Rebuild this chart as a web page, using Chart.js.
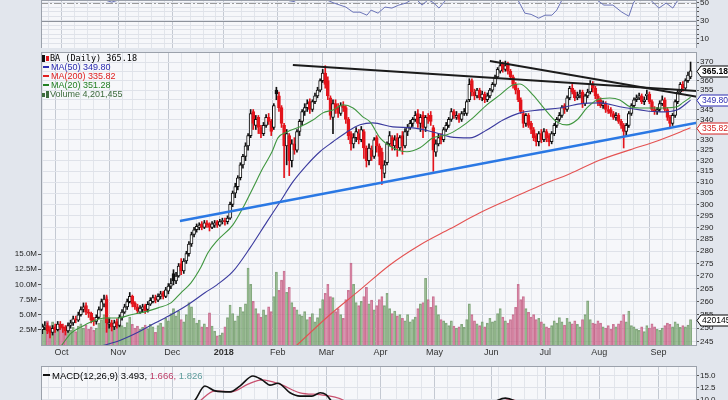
<!DOCTYPE html>
<html>
<head>
<meta charset="utf-8">
<script src="https://cdn.jsdelivr.net/npm/chart.js@4.4.0/dist/chart.umd.min.js"></script>
<style>
  body { margin: 0; width: 728px; height: 400px; overflow: hidden; position: relative; background: #e2e6ed; font-family: 'Liberation Sans', Arial, sans-serif; }
  .pane { position: absolute; left: 0; width: 728px; }
  #rsiBox { top: 0; height: 48px; }
  #priceBox { top: 48px; height: 310px; }
  #macdBox { top: 364px; height: 36px; }
  #legend { position: absolute; left: 42px; top: 6px; font-size: 9px; line-height: 9px; }
  #legend div { white-space: nowrap; }
  .dash { display: inline-block; width: 6px; height: 2px; margin: 0 2px 2px 1px; vertical-align: middle; }
  .ico { display: inline-block; width: 3px; margin-right: 1px; vertical-align: middle; }
  #macdLabel { position: absolute; left: 42px; top: 6px; font-size: 9.5px; white-space: nowrap; }
</style>
</head>
<body>
<div id="rsiBox" class="pane"><canvas id="rsi" width="728" height="48"></canvas></div>
<div id="priceBox" class="pane">
  <canvas id="price" width="728" height="310"></canvas>
  <div id="legend">
    <div><span class="ico" style="height:7px;background:#111"></span><span class="ico" style="height:5px;background:#e0161c"></span><span id="lgBA" style="font-family:'DejaVu Sans Mono',monospace;font-size:8.5px"></span></div>
    <div style="color:#2b2bb0"><span class="dash" style="background:#2b2bb0"></span><span id="lg50"></span></div>
    <div style="color:#e02020"><span class="dash" style="background:#e02020"></span><span id="lg200"></span></div>
    <div style="color:#238023"><span class="dash" style="background:#238023"></span><span id="lg20"></span></div>
    <div style="color:#3d6b3d"><span class="ico" style="height:4px;background:#3d6b3d"></span><span class="ico" style="height:7px;background:#3d6b3d"></span><span id="lgVol"></span></div>
  </div>
</div>
<div id="macdBox" class="pane">
  <canvas id="macd" width="728" height="36"></canvas>
  <div id="macdLabel"><span class="dash" style="background:#111;width:7px"></span>MACD(12,26,9) 3.493, <span style="color:#c0406a">1.666,</span> <span style="color:#5f9c9c">1.826</span></div>
</div>
<script>
const F = "'Liberation Sans', Arial, sans-serif";

// daily candles, Sep 20 2017 .. Sep 20 2018
const opens = [
  249.5, 250.5, 251, 249.5, 248.5, 250.5, 249.5, 251.5,
  250.5, 250.5, 249, 251, 252, 253.5, 253, 255, 257, 258.5, 256, 255.5, 253, 252.5, 254, 257, 259, 261, 251.5, 252, 250.5, 252.5,
  251, 254, 256, 258, 260, 262, 259.5, 258, 256, 257, 258.5, 257, 259, 260, 261.5, 260.5, 262, 263.5, 262, 264, 266,
  271, 268, 270, 275, 272, 276, 279, 283, 287, 289, 290, 291.5, 290, 292, 291.5, 290, 291, 292.5, 291, 292.5,
  293, 292.5, 294, 300, 305, 308, 312, 318, 322, 327, 332, 344, 337, 341, 336, 333, 337, 341, 339, 336, 355,
  352, 346, 337, 327, 332, 320, 328, 325, 334, 339, 344, 346, 349, 345, 349, 352, 355, 360, 364,
  360, 351, 341, 348, 346, 343, 347, 346, 340, 333, 328, 331, 333, 330, 334, 326, 320, 325, 322, 331, 327,
  324, 314, 319, 328, 331, 327, 331, 326, 332, 327, 334, 336, 338, 340, 343, 338, 342, 336, 341, 342, 336,
  324, 328, 332, 330, 335, 337, 340, 344, 341, 342, 340, 343, 343, 350, 360, 354, 352, 355, 351, 353, 350, 352,
  355, 358, 362, 365, 369, 366, 369, 365, 362, 358, 355, 350, 343, 338, 342, 338, 335, 332, 329, 333, 330,
  334, 332, 329, 333, 337, 340, 342, 347, 345, 351, 356, 354, 351, 352, 354, 348, 352, 354, 358, 356, 352,
  350, 347, 348, 345, 345, 343, 341, 342, 339, 337, 334, 337, 343, 347, 350, 351, 352, 349, 352, 353, 349, 345, 344,
  345, 348, 350, 345, 341, 338, 342, 349, 354, 358, 356, 360, 362
];
const highs = [
  251.5, 252.5, 252, 250.5, 251, 251.5, 252.5, 252.5,
  251.5, 251, 252, 253, 254.5, 254.5, 256, 258, 259.5, 259.5, 257, 256, 254, 255, 258, 261, 262.5, 262.5, 253.5, 253, 253, 253.5,
  255, 257, 259, 261, 263.5, 262.5, 260, 259, 258.5, 259, 259, 260, 261.5, 262.5, 262.5, 263, 264, 264, 265.5, 267, 269,
  272.5, 271.5, 275, 277, 277, 280, 284, 288, 290, 291.5, 292, 292.5, 293, 293, 292, 292.5, 293, 293, 293.5, 294,
  294, 295, 301, 306, 309.5, 313, 319, 323, 328.5, 333, 345, 345, 342, 342, 337, 338.5, 342.5, 343, 340, 348, 356.5,
  354, 347, 338, 335, 333, 330, 331, 335, 340, 345, 348, 350, 350.5, 350, 353.5, 356.5, 361, 366, 368,
  362, 352, 350, 350, 348, 348.5, 349, 347, 341, 334, 333, 336, 335, 336.5, 335, 327, 328, 327, 331, 332, 328,
  326, 320, 329, 334, 332, 332, 333, 332, 334, 335.5, 337.5, 339.5, 341, 344, 345, 342.5, 344, 342, 343, 344, 337,
  330, 333, 333, 336, 338.5, 341, 345.5, 345, 344, 343, 344, 345.5, 350, 361, 361, 355.5, 356, 356, 354.5, 354, 353.5, 356,
  359, 363, 367, 371, 370, 370.5, 370, 366, 363, 359, 356, 351, 344.5, 343, 343, 339, 336, 333, 334, 335, 335.5,
  335, 333, 334, 338, 341, 343.5, 347, 348, 352, 357, 358, 355, 354, 355, 355, 353, 355.5, 360, 359.5, 357, 353,
  351, 349.5, 349, 347, 346, 344, 343.5, 343, 340, 338, 338, 344, 348, 351, 352.5, 353.5, 353, 351.5, 355, 354, 350, 346.5, 346,
  349.5, 352, 351, 346, 342, 343, 350, 355, 359, 359.5, 361, 364.5, 370
];
const lows = [
  248, 249.5, 248, 246.5, 247.5, 248.5, 249, 249.5,
  248.5, 247.5, 248.5, 250, 251, 252, 252.5, 254.5, 256, 255, 254, 252, 251, 251.5, 253.5, 256.5, 258, 248.5, 250, 249, 249.5, 250,
  250.5, 253, 255.5, 257, 259.5, 258, 257, 255.5, 255.5, 256, 255.5, 256, 258.5, 259.5, 259.5, 260, 261, 261, 261.5, 263, 265,
  266.5, 267, 269.5, 270.5, 271, 275, 278, 282, 286, 288, 289, 289, 289.5, 290, 288.5, 289.5, 290, 290, 290.5, 291.5,
  291, 291.5, 293.5, 299, 303, 306.5, 311, 316.5, 320, 325, 331, 335, 335, 333, 331, 332, 336, 337.5, 332, 335, 350,
  344, 336, 312, 318, 313, 317, 323, 324, 332, 337, 342, 344, 343, 344, 348, 351, 354, 359, 356,
  350, 340, 333, 343, 341, 342, 344, 338, 330, 325, 326, 329, 328, 329, 321, 317, 318, 320, 321, 324, 318,
  309, 312, 318, 327, 325, 325, 322, 325, 323, 326, 332, 335, 336.5, 339, 336, 334, 331, 334, 338, 337, 315,
  322, 327, 328, 329, 334, 336, 339, 340.5, 340, 338.5, 339, 342, 342, 349, 352, 350, 351, 350, 349.5, 348.5, 349, 351,
  354, 357, 361, 364, 364.5, 365, 363.5, 360.5, 356, 353, 349, 343, 336, 336.5, 336, 333, 329.5, 327, 327, 328.5, 329,
  329, 327, 328, 332, 336, 339, 341, 343, 344, 350, 353, 349.5, 350, 351, 346, 347, 351, 353, 354, 350.5, 347,
  346, 345.5, 343.5, 343, 341.5, 340, 339.5, 338, 335.5, 326, 332, 336, 342, 346, 349, 350, 348, 347.5, 350, 348, 344, 342.5, 342.5,
  344, 347, 344, 339.5, 336, 337, 341, 348, 353, 354.5, 355, 359, 361
];
const closes = [
  250.5, 251, 249, 248.5, 250, 249.5, 251.5, 250.5,
  250, 249, 251, 252, 253.5, 253, 255, 257, 258, 256, 255.5, 253, 252.5, 254, 257, 260, 261, 252, 252, 250.5, 252, 251,
  254, 256, 258, 260, 262, 259, 258, 256.5, 257.5, 258, 256.5, 259, 260.5, 261.5, 260.5, 262, 263, 262, 264.5, 266, 267,
  268, 270, 274, 272, 276, 279, 283, 287, 289, 290.5, 291, 290, 292, 291, 290, 291.5, 292, 291, 292.5, 293,
  292.5, 294, 300, 305, 308, 312, 318, 322, 327, 332, 343, 338, 340, 336, 333, 337, 341, 339, 334, 347, 353,
  346, 338, 327, 333, 320, 328, 325, 334, 339, 344, 346, 348, 345, 349, 352, 355, 360, 364, 358,
  352, 342, 348, 345, 343, 347, 346, 340, 332, 328, 331, 334, 330, 335, 326, 320, 326, 322, 330, 327, 322,
  316, 318, 328, 332, 327, 330, 326, 331, 327, 334, 336, 338, 340, 342, 338, 341, 336, 341, 340, 339, 325,
  328, 331, 330, 335, 337, 340, 344, 342, 342, 340, 343, 344, 349, 358, 354, 352, 355, 351, 353, 350, 352, 355,
  358, 362, 366, 368, 366, 368, 365, 362, 358, 355, 350, 344, 338, 342, 337, 335, 331, 329, 333, 330, 334,
  331, 329, 333, 337, 340, 342, 346, 345, 351, 356, 354, 351, 352, 353, 348, 352, 354, 358, 356, 352, 349,
  347, 348, 345, 344, 343, 341, 342, 339, 337, 334, 337, 343, 347, 350, 351, 352, 349, 350, 353, 349, 345, 344, 345,
  348, 350, 345, 341, 338, 342, 349, 354, 358, 356, 360, 363, 365.18
];
// volume in millions
const volumes = [
  3.5, 2.8, 4.0, 3.2, 3.8, 2.6, 3.0, 2.9,
  3.0, 2.5, 2.7, 2.4, 2.9, 2.2, 3.1, 3.5, 2.8, 3.3, 2.6, 3.0, 2.4, 2.8, 3.6, 4.2, 5.0, 8.0, 4.5, 3.4, 3.0, 3.8,
  3.6, 3.2, 2.9, 3.7, 4.6, 3.4, 2.8, 3.1, 2.6, 2.9, 3.3, 2.7, 3.4, 3.0, 2.1, 3.2, 3.6, 3.0, 4.4, 4.0, 5.2,
  6.0, 4.8, 5.6, 4.2, 3.8, 5.0, 7.0, 6.3, 4.4, 3.6, 4.1, 3.0, 3.5, 2.9, 5.3, 3.1, 2.3, 1.5, 1.6, 2.0,
  3.0, 4.5, 6.6, 5.2, 4.0, 4.8, 6.2, 5.5, 6.8, 12.7, 10.0, 7.2, 6.0, 5.2, 4.6, 5.8, 4.9, 6.3, 5.5, 8.0, 12.0,
  9.0, 10.7, 12.2, 8.7, 9.5, 7.0, 6.2, 5.8, 5.0, 4.8, 5.5, 4.2, 4.6, 5.2, 3.8, 4.5, 6.0, 7.5, 8.5,
  10.0, 8.0, 7.8, 5.5, 6.0, 5.0, 4.4, 7.5, 9.0, 13.5, 10.0, 7.0, 6.5, 7.2, 8.0, 9.5, 6.8, 7.4, 5.8, 6.5, 7.5,
  8.0, 6.5, 8.5, 6.0, 5.2, 5.6, 4.8, 5.0, 4.4, 4.0, 5.0, 3.8, 4.2, 4.6, 6.0, 6.8, 7.0, 11.0, 7.5, 6.2, 8.0,
  6.5, 5.0, 4.2, 4.0, 3.6, 3.2, 4.0, 3.1, 2.8, 3.0, 3.4, 2.9, 4.2, 6.8, 5.0, 4.0, 3.5, 3.2, 3.8, 3.0, 3.6, 4.4,
  3.8, 4.0, 5.2, 6.0, 4.6, 4.0, 3.6, 4.2, 5.0, 6.2, 10.0, 7.5, 8.0, 6.0, 5.4, 4.6, 5.0, 4.2, 4.4, 3.8, 3.5,
  3.0, 2.8, 3.2, 4.0, 3.6, 4.5, 3.8, 3.3, 4.4, 3.8, 3.5, 4.0, 3.4, 3.0, 4.2, 5.0, 7.3, 4.2, 3.6, 3.5, 4.0,
  3.6, 3.0, 2.8, 3.2, 2.6, 3.4, 3.0, 3.5, 4.0, 5.0, 3.8, 5.6, 3.2, 3.0, 2.6, 2.4, 3.0, 2.2, 3.2, 2.8, 3.5, 3.0, 2.6,
  2.4, 2.8, 3.2, 3.6, 3.4, 3.0, 3.8, 3.5, 2.9, 3.2, 3.0, 3.3, 4.201455
];

// moving averages (day index, value)
const ma20Days = [7.3, 11.2, 15.0, 18.9, 24.4, 29.4, 34.5, 39.9, 45.0, 50.0, 53.9, 57.8, 61.7, 64.4, 67.9, 74.1, 78.0, 81.9, 85.8, 89.3, 91.6, 95.1, 100.2, 105.2, 109.1, 113.0, 116.9, 120.8, 124.6, 127.4, 131.3, 136.3, 141.7, 146.8, 151.9, 157.3, 162.3, 167.4, 172.8, 177.9, 182.9, 185.7, 190.7, 196.2, 200.0, 203.9, 207.8, 211.7, 215.6, 220.6, 224.5, 228.4, 232.3, 237.4, 241.2, 246.7, 249, 252];
const ma20Values = [243.5, 248.2, 250.4, 252.3, 253.8, 253.8, 255.0, 256.1, 257.6, 259.5, 263.4, 267.3, 273.6, 279.4, 284.3, 291.1, 298.5, 307.4, 316.6, 324.2, 330.9, 333.8, 336.3, 339.7, 343.3, 344.8, 347.4, 345.8, 341.3, 338.8, 330.9, 326.1, 324.2, 326.1, 330.9, 332.4, 335.8, 340.8, 347.4, 352.5, 357.7, 358.2, 352.5, 343.8, 338.8, 337.3, 339.7, 345.8, 349.9, 350.9, 349.9, 346.4, 345.8, 345.8, 345.8, 346.4, 348.5, 351.28];
const ma50Days = [22.8, 30.6, 37.2, 43.8, 50.0, 56.6, 63.2, 67.9, 74.1, 80.7, 87.3, 92.4, 97.4, 102.9, 107.9, 113.0, 118.4, 123.5, 128.5, 136.3, 144.1, 151.9, 158.5, 166.2, 172.8, 179.1, 185.7, 193.4, 201.2, 209.0, 216.8, 224.5, 232.3, 240.1, 246.7, 252];
const ma50Values = [243.5, 245.7, 248.5, 251.9, 255.0, 258.8, 263.4, 266.5, 271.8, 281.3, 292.4, 301.1, 310.1, 318.0, 324.2, 329.0, 333.8, 337.3, 338.3, 336.3, 335.8, 333.8, 331.4, 330.9, 334.8, 339.7, 343.3, 344.8, 345.8, 347.9, 348.4, 346.4, 344.8, 343.8, 344.8, 349.80];
const ma200Days = [90, 99.0, 111.8, 123.5, 135.1, 146.8, 158.5, 170.1, 181.8, 193.4, 205.1, 216.8, 228.4, 240.1, 252];
const ma200Values = [236.5, 243.9, 255.0, 264.5, 274.4, 282.6, 289.4, 296.3, 302.4, 308.4, 313.9, 320.3, 325.1, 329.9, 335.82];

// hand drawn trend lines (two ends each)
const supportDays = [53.5, 254.5], supportValues = [292.8, 338.3];
const resistDays = [97.4, 254.5], resistValues = [368.4, 354.6];
const resist2Days = [174.0, 254.5], resist2Values = [370.5, 351.6];

// indicator panes
const rsiDays = [0, 8, 15, 22, 25.2, 27, 29.4, 32, 45, 60, 80, 92, 94, 96, 98, 100, 105, 109, 110.6, 113.4, 118, 120.8, 123.5, 126.2, 127.8, 130.5, 133.2, 135.9, 138.6, 141.4, 143.3, 145, 147.6, 150, 152, 154.2, 156.9, 160, 170, 178, 182, 184.9, 187.6, 190, 193, 195.4, 198.1, 200, 202, 206, 212, 215.6, 218.3, 221.8, 225.3, 228, 229.9, 232, 236, 239.7, 242.5, 245.1, 247.1, 250, 252];
const rsiValues = [60, 56, 64, 62, 52, 50.5, 52.5, 60, 66, 74, 82, 62, 55, 52, 51, 56, 63, 58, 52.8, 49.4, 45, 39.4, 39.4, 36.1, 41.7, 38.3, 45, 43.9, 47.2, 49.4, 52.8, 55, 47.2, 53, 50, 43.9, 52.8, 58, 63, 68, 60, 52.8, 38.3, 37, 32.8, 36.1, 36.1, 41.7, 52.8, 60, 62, 52.8, 47.2, 47.2, 39.4, 35, 50.5, 56, 54, 43.9, 49.4, 43.9, 52.8, 60, 63];
const rsiLevels = [30, 50];
const macdDays = [0, 40, 55, 59.4, 63.2, 67.1, 73, 76.8, 81.9, 85.4, 88.5, 91.6, 96.3, 100.2, 104.8, 108, 110.3, 112.6, 116, 130, 150, 170, 176, 180, 184, 190, 215, 235, 252];
const macdValues = [2, 4, 8, 9.9, 12.8, 11.8, 11.6, 12.8, 14.9, 14.1, 13.0, 13.4, 11.4, 10.7, 10.7, 11.4, 11.0, 9.5, 7, 1, 2, 8, 9.6, 10.3, 9.6, 7, 5, 3, 3.493];
const signalDays = [0, 50, 58, 61.3, 67.1, 73.7, 80, 85.4, 92.4, 100.2, 108, 113.8, 117.6, 122, 150, 172, 178, 181.8, 186, 195, 252];
const signalValues = [2, 5, 8, 9.7, 11.8, 11.6, 13.2, 14.1, 13.2, 11.4, 11.0, 10.5, 9.7, 8, 1.5, 7, 9.4, 10.0, 9.4, 7, 1.666];

// axes
const priceTicks = [245, 250, 255, 260, 265, 270, 275, 280, 285, 290, 295, 300, 305, 310, 315, 320, 325, 330, 335, 340, 345, 350, 355, 360, 365, 370];
const volTicks = [2.5, 5, 7.5, 10, 12.5, 15];
const rsiTicks = [5, 10, 15, 20, 25, 30, 35, 40, 45, 50];
const macdTicks = [10, 12.5, 15];
const monthStarts = [8, 30, 51, 71, 92, 111, 132, 153, 175, 196, 217, 240];
const monthLabels = ['Oct', 'Nov', 'Dec', '2018', 'Feb', 'Mar', 'Apr', 'May', 'Jun', 'Jul', 'Aug', 'Sep'];

const n = closes.length;
const pts = (days, vals) => days.map((d, i) => ({ x: d, y: vals[i] }));
const upDay = closes.map((c, i) => i === 0 || c >= closes[i - 1]);
const candleCol = upDay.map(u => (u ? '#111111' : '#e3141c'));
const bodyFill = closes.map((c, i) => (c > opens[i] ? '#ffffff' : candleCol[i]));

// vertical grid: weekly lines plus darker month lines
const gridTicks = [];
for (let d = 3; d < n; d += 5) {
  if (!monthStarts.some(m => Math.abs(m - d) < 3)) gridTicks.push(d - 0.5);
}
monthStarts.forEach(m => gridTicks.push(m - 0.5));
gridTicks.sort((a, b) => a - b);

function xAxis(showLabels, height) {
  return {
    type: 'linear', min: -0.5, max: n + 1.5, offset: false,
    afterBuildTicks: s => { s.ticks = gridTicks.map(v => ({ value: v })); },
    afterFit: s => { s.height = height; s.paddingLeft = 0; s.paddingRight = 0; },
    grid: {
      color: c => (c.tick && monthStarts.includes(c.tick.value + 0.5) ? '#c4c9d2' : '#e2e5eb'),
      drawTicks: false
    },
    border: { display: false },
    ticks: {
      display: showLabels, autoSkip: false, maxRotation: 0, padding: 2, color: '#333',
      font: c => ({ size: 9, family: F, weight: c.tick && c.tick.value === monthStarts[3] - 0.5 ? 'bold' : 'normal' }),
      callback: v => { const k = monthStarts.indexOf(v + 0.5); return k >= 0 ? monthLabels[k] : ''; }
    }
  };
}

function rightAxis(min, max, ticks, fmt, type) {
  return {
    type: type || 'linear', position: 'right', min: min, max: max, bounds: 'data',
    afterBuildTicks: s => { s.ticks = ticks.map(v => ({ value: v })); },
    afterFit: s => { s.width = 31; s.paddingTop = 0; s.paddingBottom = 0; },
    grid: { color: '#dfe2e9', tickColor: '#555', tickLength: 2 },
    border: { display: false },
    ticks: { autoSkip: false, padding: 1, color: '#222', font: { size: 8, family: F }, callback: fmt }
  };
}

const panelBg = {
  id: 'panelBg',
  beforeDraw(chart) {
    const a = chart.chartArea, c = chart.ctx;
    c.save();
    c.fillStyle = '#f6f7fa';
    c.fillRect(a.left, a.top, a.right - a.left, a.bottom - a.top);
    c.restore();
  },
  afterDatasetsDraw(chart) {
    const a = chart.chartArea, c = chart.ctx;
    c.save();
    c.strokeStyle = '#9ba1ab';
    c.lineWidth = 1;
    c.strokeRect(a.left + 0.5, a.top + 0.5, a.right - a.left - 1, a.bottom - a.top);
    c.restore();
  }
};

const tags = [
  { axis: 'y', value: closes[n - 1], text: closes[n - 1].toFixed(2), color: '#000', bold: true },
  { axis: 'y', value: ma50Values[ma50Values.length - 1], text: ma50Values[ma50Values.length - 1].toFixed(2), color: '#2b2bb0' },
  { axis: 'y', value: ma200Values[ma200Values.length - 1], text: ma200Values[ma200Values.length - 1].toFixed(2), color: '#d42020' },
  { axis: 'vol', value: volumes[n - 1], text: String(Math.round(volumes[n - 1] * 1e6)), color: '#000' }
];
const tagPlugin = {
  id: 'tags',
  afterDraw(chart) {
    const c = chart.ctx, x0 = chart.chartArea.right + 4, w = 32, h = 11;
    tags.forEach(t => {
      const y = Math.round(chart.scales[t.axis].getPixelForValue(t.value)) + 0.5;
      c.save();
      c.beginPath();
      c.moveTo(x0 - 4, y);
      c.lineTo(x0, y - h / 2);
      c.lineTo(x0 + w, y - h / 2);
      c.lineTo(x0 + w, y + h / 2);
      c.lineTo(x0, y + h / 2);
      c.closePath();
      c.fillStyle = '#ffffff';
      c.fill();
      c.strokeStyle = t.color;
      c.lineWidth = 1;
      c.stroke();
      c.fillStyle = t.color;
      c.font = (t.bold ? 'bold ' : '') + '8.5px ' + F;
      c.textBaseline = 'middle';
      c.fillText(t.text, x0 + 1, y + 0.5);
      c.restore();
    });
  }
};

const rsiLinePlugin = {
  id: 'rsiLines',
  beforeDatasetsDraw(chart) {
    const a = chart.chartArea, c = chart.ctx, s = chart.scales.y;
    c.save();
    rsiLevels.forEach(v => {
      const y = Math.round(s.getPixelForValue(v)) + 0.5;
      c.strokeStyle = v === 30 ? '#8d929b' : '#9a9a9a';
      c.setLineDash(v === 30 ? [] : [7, 2, 2, 2]);
      c.beginPath();
      c.moveTo(a.left, y);
      c.lineTo(a.right, y);
      c.stroke();
    });
    c.restore();
  }
};

const common = {
  responsive: false, animation: false, devicePixelRatio: 1,
  plugins: { legend: { display: false }, tooltip: { enabled: false } }
};

// price pane
new Chart(document.getElementById('price'), {
  type: 'bar',
  data: {
    datasets: [
      { type: 'line', data: pts(supportDays, supportValues), borderColor: '#2a78e4', borderWidth: 2.5, pointRadius: 0, yAxisID: 'y', order: 0 },
      { type: 'line', data: pts(resistDays, resistValues), borderColor: '#1b1b1b', borderWidth: 2, pointRadius: 0, yAxisID: 'y', order: 0 },
      { type: 'line', data: pts(resist2Days, resist2Values), borderColor: '#1b1b1b', borderWidth: 2, pointRadius: 0, yAxisID: 'y', order: 0 },
      { type: 'line', data: pts(ma20Days, ma20Values), borderColor: '#3f963f', borderWidth: 1.1, pointRadius: 0, cubicInterpolationMode: 'monotone', yAxisID: 'y', order: 1 },
      { type: 'line', data: pts(ma50Days, ma50Values), borderColor: '#3a3a9e', borderWidth: 1.1, pointRadius: 0, cubicInterpolationMode: 'monotone', yAxisID: 'y', order: 1 },
      { type: 'line', data: pts(ma200Days, ma200Values), borderColor: '#e45252', borderWidth: 1.1, pointRadius: 0, cubicInterpolationMode: 'monotone', yAxisID: 'y', order: 1 },
      {
        data: closes.map((c, i) => ({ x: i, y: [opens[i], c] })),
        backgroundColor: bodyFill, borderColor: candleCol, borderWidth: 1, borderSkipped: false,
        barThickness: 3, grouped: false, yAxisID: 'y', order: 2
      },
      {
        data: closes.map((c, i) => ({ x: i, y: [lows[i], highs[i]] })),
        backgroundColor: candleCol, borderWidth: 0, barThickness: 1, grouped: false, yAxisID: 'y', order: 3
      },
      {
        data: volumes.map((v, i) => ({ x: i, y: v })),
        backgroundColor: upDay.map(u => (u ? 'rgba(132,176,122,0.62)' : 'rgba(212,112,148,0.62)')),
        borderColor: upDay.map(u => (u ? 'rgba(96,140,90,0.75)' : 'rgba(184,80,118,0.75)')),
        borderWidth: { left: 0.5, right: 0.5, top: 1, bottom: 0 }, borderSkipped: false,
        barThickness: 2.2, grouped: false, yAxisID: 'vol', order: 5
      }
    ]
  },
  options: Object.assign({}, common, {
    layout: { padding: { top: 4, left: 0, right: 0, bottom: 0 } },
    scales: {
      x: xAxis(true, 13),
      y: rightAxis(243.9, 375.5, priceTicks, v => String(v), 'logarithmic'),
      vol: {
        type: 'linear', position: 'left', min: 0, max: 48.3,
        afterBuildTicks: s => { s.ticks = volTicks.map(v => ({ value: v })); },
        afterFit: s => { s.width = 41; s.paddingTop = 0; s.paddingBottom = 0; },
        grid: { drawOnChartArea: false, tickColor: '#555', tickLength: 3 },
        border: { display: false },
        ticks: { autoSkip: false, padding: 1, color: '#222', font: { size: 8, family: F }, callback: v => v.toFixed(1) + 'M' }
      }
    }
  }),
  plugins: [panelBg, tagPlugin]
});

// RSI pane (only its lower part is in view)
new Chart(document.getElementById('rsi'), {
  type: 'line',
  data: { datasets: [{ data: pts(rsiDays, rsiValues), borderColor: '#6b74b8', borderWidth: 1, pointRadius: 0 }] },
  options: Object.assign({}, common, {
    layout: { padding: { top: 0, left: 41, right: 0, bottom: 0 } },
    scales: {
      x: xAxis(false, 0),
      y: rightAxis(0, 52.8, rsiTicks, v => ([10, 30, 50].includes(v) ? String(v) : ''))
    }
  }),
  plugins: [panelBg, rsiLinePlugin]
});

// MACD pane (only its top is in view)
new Chart(document.getElementById('macd'), {
  type: 'line',
  data: {
    datasets: [
      { data: pts(macdDays, macdValues), borderColor: '#111111', borderWidth: 1.6, pointRadius: 0, cubicInterpolationMode: 'monotone' },
      { data: pts(signalDays, signalValues), borderColor: '#c8506e', borderWidth: 1.2, pointRadius: 0, cubicInterpolationMode: 'monotone' }
    ]
  },
  options: Object.assign({}, common, {
    layout: { padding: { top: 2, left: 41, right: 0, bottom: 0 } },
    scales: {
      x: xAxis(false, 0),
      y: rightAxis(9.9, 16.98, macdTicks, v => v.toFixed(1))
    }
  }),
  plugins: [panelBg]
});

document.getElementById('lgBA').textContent = 'BA (Daily) ' + closes[n - 1].toFixed(2);
document.getElementById('lg50').textContent = 'MA(50) ' + ma50Values[ma50Values.length - 1].toFixed(2);
document.getElementById('lg200').textContent = 'MA(200) ' + ma200Values[ma200Values.length - 1].toFixed(2);
document.getElementById('lg20').textContent = 'MA(20) ' + ma20Values[ma20Values.length - 1].toFixed(2);
document.getElementById('lgVol').textContent = 'Volume ' + Math.round(volumes[n - 1] * 1e6).toLocaleString('en-US');
</script>
</body>
</html>
